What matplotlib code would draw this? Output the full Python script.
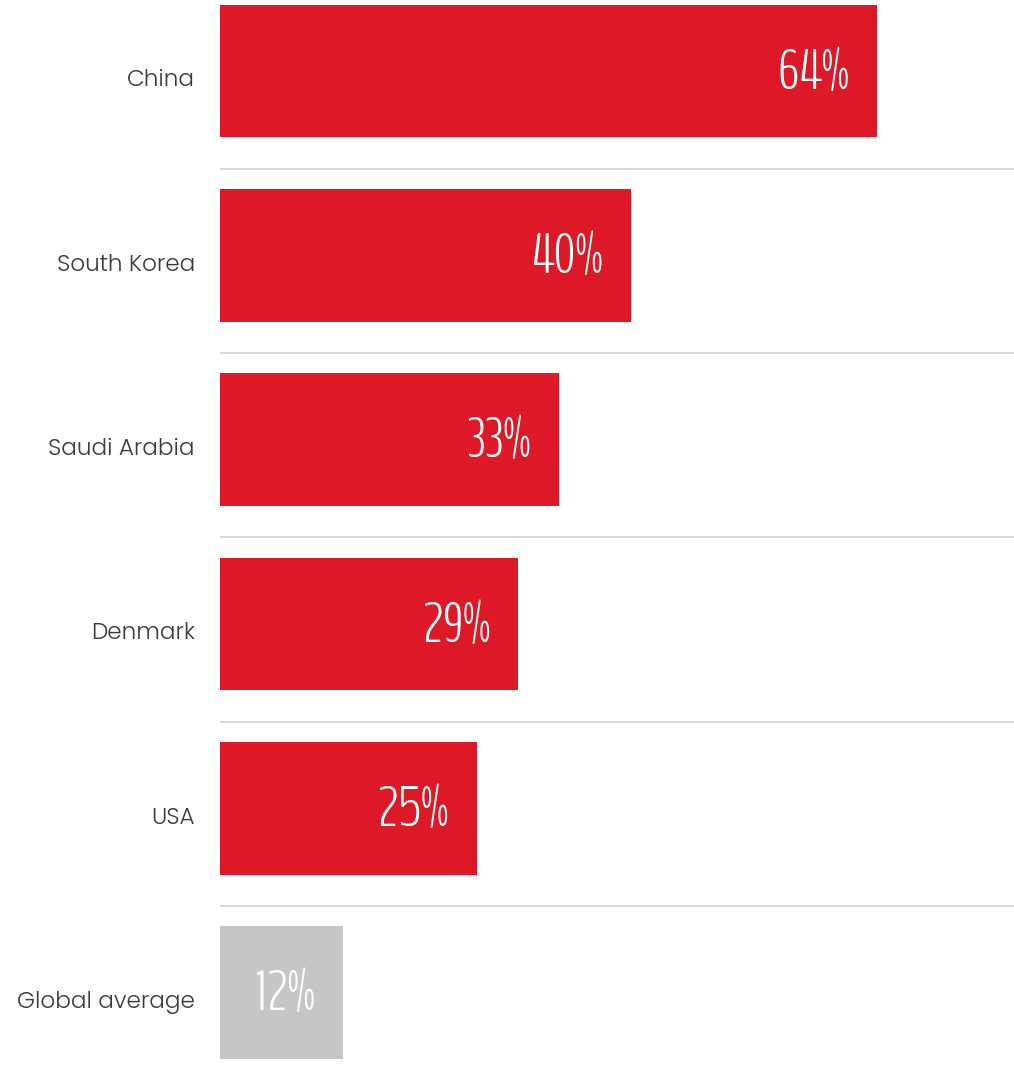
import matplotlib
matplotlib.use("Agg")
import matplotlib.pyplot as plt

countries = ["China", "South Korea", "Saudi Arabia", "Denmark", "USA", "Global average"]
shares = [64, 40, 33, 29, 25, 12]
labels = ["64%", "40%", "33%", "29%", "25%", "12%"]

RED = "#DE1927"
GREY = "#C6C6C8"

fig = plt.figure(figsize=(10.14, 10.85), dpi=100)
ax = fig.add_axes([220 / 1014, 0, 1 - 220 / 1014, 1])

colors = [RED] * 5 + [GREY]
ypos = list(range(len(countries)))
ax.barh(ypos, shares, height=0.72, color=colors, zorder=2)

# thin rules between the rows
for y in ypos[:-1]:
    ax.axhline(y + 0.53, color="#D6D6D6", lw=1.3, zorder=1)

for y, v, lab in zip(ypos, shares, labels):
    ax.annotate(lab, (v, y), xytext=(-20, -2), textcoords="offset points",
                ha="right", va="center", color="white", fontsize=40,
                family=["BenchNine", "DejaVu Sans"], fontweight=300)

for y, name in zip(ypos, countries):
    ax.annotate(name, (0, y), xytext=(-18, -7), textcoords="offset points",
                ha="right", va="center", color="#3A3A3A", fontsize=16.6,
                family=["Poppins", "DejaVu Sans"], fontweight=300,
                annotation_clip=False)

ax.set_xlim(0, 77.3)
ax.set_ylim(5.5, -0.385)
ax.axis("off")

fig.savefig("out.png", dpi=100)
